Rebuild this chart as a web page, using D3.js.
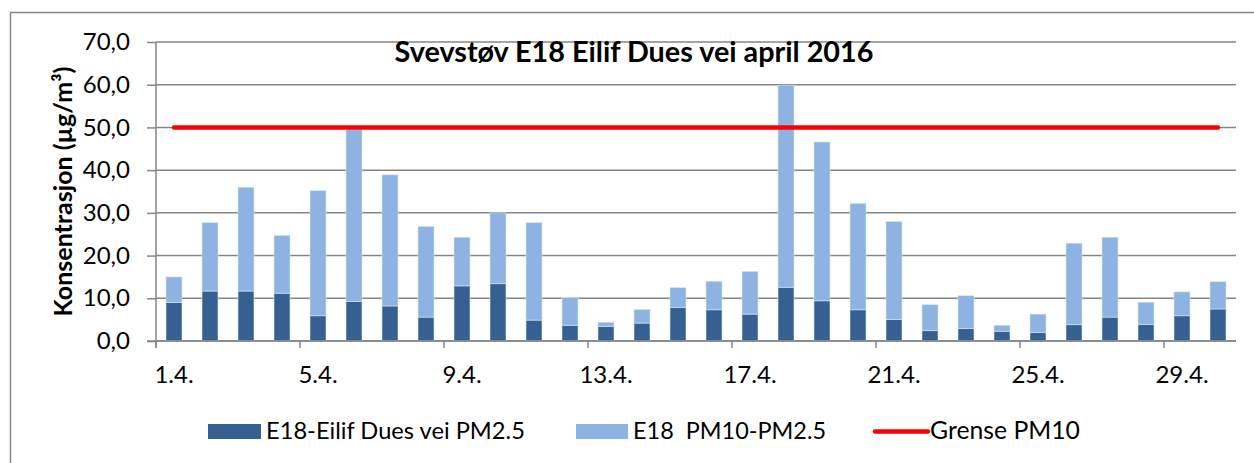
<!DOCTYPE html>
<html><head><meta charset="utf-8">
<script src="https://cdn.jsdelivr.net/npm/d3@7"></script>
<style>html,body{margin:0;padding:0;background:#fff;}svg{display:block;}</style>
</head><body>
<svg id="chart" width="1254" height="463"></svg>
<script>
const categories = ["1.4.","2.4.","3.4.","4.4.","5.4.","6.4.","7.4.","8.4.","9.4.","10.4.","11.4.","12.4.","13.4.","14.4.","15.4.","16.4.","17.4.","18.4.","19.4.","20.4.","21.4.","22.4.","23.4.","24.4.","25.4.","26.4.","27.4.","28.4.","29.4.","30.4."];
const pm25 = [9.0,11.7,11.7,11.2,5.9,9.2,8.2,5.6,12.9,13.4,4.9,3.7,3.4,4.2,7.9,7.3,6.3,12.6,9.4,7.3,5.0,2.4,2.9,2.3,2.0,3.8,5.6,3.9,5.9,7.5];
const coarse = [6.0,16.0,24.3,13.5,29.3,40.4,30.7,21.2,11.4,16.6,22.8,6.5,1.0,3.2,4.6,6.7,10.0,47.3,37.2,24.9,23.0,6.1,7.7,1.4,4.3,19.1,18.7,5.2,5.6,6.4];
const limitPM10 = 50;
const yTicks = [0,10,20,30,40,50,60,70];
const xLabelEvery = 4;
const seriesNames = ["E18-Eilif Dues vei PM2.5","E18  PM10-PM2.5","Grense PM10"];
const title = "Svevstøv E18 Eilif Dues vei april 2016";
const yTitle = "Konsentrasjon (µg/m³)";

const FONT = "Lato, 'Open Sans', sans-serif";
const cDark = "#376092", cLight = "#8DB3E2", cRed = "#FF0000", cGrid = "#868686";

const svg = d3.select("#chart");
const pL = 156, pR = 1236, pT = 42, pB = 341;

function fit(sel, w){
  const n = sel.node(); const fs = parseFloat(sel.attr("font-size"));
  const len = n.getComputedTextLength();
  if (len > 0) sel.attr("font-size", (fs * w / len).toFixed(2));
  return sel;
}

// outer border
svg.append("rect").attr("x",10.5).attr("y",12.5).attr("width",1300).attr("height",500)
  .attr("fill","none").attr("stroke",cGrid).attr("stroke-width",1.5);

const x = d3.scaleBand().domain(categories).range([pL,pR]).paddingInner(20/36).paddingOuter(10/36);
const y = d3.scaleLinear().domain([0,70]).range([pB,pT]);
const step = x.step();

// gridlines
svg.append("g").selectAll("line").data(yTicks).join("line")
  .attr("x1",pL).attr("x2",pR).attr("y1",d=>y(d)).attr("y2",d=>y(d))
  .attr("stroke",cGrid).attr("stroke-width",1.5);

// y axis
const fmt = d3.formatLocale({decimal:",",thousands:" ",grouping:[3],currency:["",""]}).format(".1f");
const yAxis = svg.append("g").attr("transform",`translate(${pL},0)`)
  .call(d3.axisLeft(y).tickValues(yTicks).tickFormat(fmt).tickSize(9).tickPadding(17));
yAxis.select(".domain").attr("stroke",cGrid).attr("stroke-width",1.5).attr("d",`M0,${pT}V${pB+6}`);
yAxis.selectAll(".tick line").attr("stroke",cGrid).attr("stroke-width",1.5);
yAxis.selectAll(".tick text").attr("font-family",FONT).attr("font-size",24).attr("fill","#000");

// stacked bars
const stack = d3.stack().keys(["pm25","coarse"])(categories.map((c,i)=>({cat:c,pm25:pm25[i],coarse:coarse[i]})));
const colors = [cDark,cLight];
svg.append("g").selectAll("g").data(stack).join("g").attr("fill",(d,i)=>colors[i])
  .selectAll("rect").data(d=>d).join("rect")
  .attr("x",d=>x(d.data.cat)).attr("width",x.bandwidth())
  .attr("y",d=>y(d[1])).attr("height",d=>y(d[0])-y(d[1]))
  .attr("stroke","#dbe5f1").attr("stroke-width",0.6);

// x axis
const xg = svg.append("g");
xg.append("line").attr("x1",pL-9).attr("x2",pR).attr("y1",pB).attr("y2",pB)
  .attr("stroke",cGrid).attr("stroke-width",1.5);
const tickCats = categories.filter((c,i)=>i%xLabelEvery===0);
xg.selectAll("line.t").data(tickCats).join("line").attr("class","t")
  .attr("x1",d=>x(d)-(step-x.bandwidth())/2).attr("x2",d=>x(d)-(step-x.bandwidth())/2)
  .attr("y1",pB).attr("y2",pB+7).attr("stroke",cGrid).attr("stroke-width",1.5);
xg.selectAll("text").data(tickCats).join("text")
  .attr("x",d=>x(d)+x.bandwidth()/2).attr("y",383).attr("text-anchor","middle")
  .attr("font-family",FONT).attr("font-size",24).text(d=>d);

// limit line
svg.append("line")
  .attr("x1",x(categories[0])+x.bandwidth()/2).attr("x2",x(categories[categories.length-1])+x.bandwidth()/2)
  .attr("y1",y(limitPM10)).attr("y2",y(limitPM10))
  .attr("stroke",cRed).attr("stroke-width",4.5).attr("stroke-linecap","round");

// title
fit(svg.append("text").attr("x",634).attr("y",62).attr("text-anchor","middle")
  .attr("font-family",FONT).attr("font-weight","bold").attr("font-size",26).text(title), 479);

// y title
fit(svg.append("text").attr("transform",`translate(72,${(pT+pB)/2}) rotate(-90)`).attr("text-anchor","middle")
  .attr("font-family",FONT).attr("font-weight","bold").attr("font-size",22).text(yTitle), 250);

// legend
const lg = svg.append("g");
lg.append("rect").attr("x",208).attr("y",424).attr("width",53).attr("height",15).attr("fill",cDark);
fit(lg.append("text").attr("x",266).attr("y",439).attr("font-family",FONT).attr("font-size",23).text(seriesNames[0]), 259);
lg.append("rect").attr("x",576).attr("y",424).attr("width",52).attr("height",15).attr("fill",cLight);
fit(lg.append("text").attr("x",633).attr("y",439).attr("font-family",FONT).attr("font-size",23).style("white-space","pre").text(seriesNames[1]), 193);
lg.append("line").attr("x1",875).attr("x2",928).attr("y1",431.5).attr("y2",431.5).attr("stroke",cRed).attr("stroke-width",4.5).attr("stroke-linecap","round");
fit(lg.append("text").attr("x",930).attr("y",439).attr("font-family",FONT).attr("font-size",23).text(seriesNames[2]), 150);
</script>
</body></html>
